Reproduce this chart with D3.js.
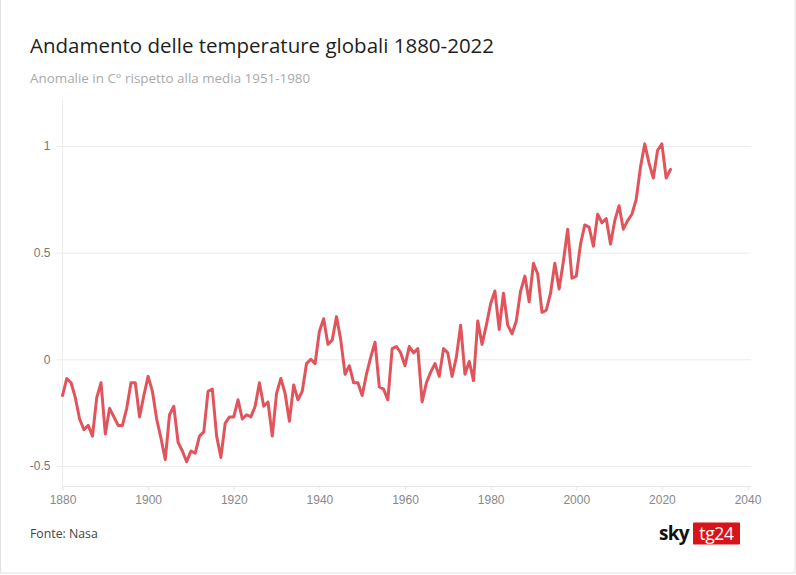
<!DOCTYPE html>
<html>
<head>
<meta charset="utf-8">
<script src="https://cdn.jsdelivr.net/npm/d3@7"></script>
<style>
  html, body { margin: 0; padding: 0; background: #fff; }
  svg { display: block; font-family: "Open Sans", "Noto Sans", sans-serif; }
</style>
</head>
<body>
<svg id="chart" width="796" height="575"></svg>
<script>
const years = d3.range(1880, 2023);
const anomalies = [
  -0.17,-0.09,-0.11,-0.18,-0.28,-0.33,-0.31,-0.36,-0.18,-0.11,
  -0.35,-0.23,-0.27,-0.31,-0.31,-0.23,-0.11,-0.11,-0.27,-0.17,
  -0.08,-0.15,-0.28,-0.37,-0.47,-0.26,-0.22,-0.39,-0.43,-0.48,
  -0.43,-0.44,-0.36,-0.34,-0.15,-0.14,-0.36,-0.46,-0.30,-0.27,
  -0.27,-0.19,-0.28,-0.26,-0.27,-0.22,-0.11,-0.22,-0.20,-0.36,
  -0.16,-0.09,-0.16,-0.29,-0.12,-0.19,-0.15,-0.02,0.00,-0.02,
  0.13,0.19,0.07,0.09,0.20,0.09,-0.07,-0.03,-0.11,-0.11,
  -0.17,-0.07,0.01,0.08,-0.13,-0.14,-0.19,0.05,0.06,0.03,
  -0.03,0.06,0.03,0.05,-0.20,-0.11,-0.06,-0.02,-0.08,0.05,
  0.03,-0.08,0.01,0.16,-0.07,-0.01,-0.10,0.18,0.07,0.16,
  0.26,0.32,0.14,0.31,0.16,0.12,0.18,0.32,0.39,0.27,
  0.45,0.40,0.22,0.23,0.31,0.45,0.33,0.46,0.61,0.38,
  0.39,0.54,0.63,0.62,0.53,0.68,0.64,0.66,0.54,0.65,
  0.72,0.61,0.65,0.68,0.75,0.90,1.01,0.92,0.85,0.98,
  1.01,0.85,0.89
];
const xTicks = [1880, 1900, 1920, 1940, 1960, 1980, 2000, 2020, 2040];
const yTicks = [-0.5, 0, 0.5, 1];
const yTickLabels = ["-0.5", "0", "0.5", "1"];

const title = "Andamento delle temperature globali 1880-2022";
const subtitle = "Anomalie in C° rispetto alla media 1951-1980";
const source = "Fonte: Nasa";

const data = years.map((y, i) => ({ year: y, value: anomalies[i] }));

const svg = d3.select("#chart");
const W = 796, H = 575;

// border
svg.append("rect").attr("x", 0.5).attr("y", -1).attr("width", W - 1.5).attr("height", H - 1)
  .attr("fill", "#fff").attr("stroke", "#e2e2e2");

const x = d3.scaleLinear().domain([1880, 2040]).range([62.5, 747.5]);
const y = d3.scaleLinear().domain([0, 1]).range([359.3, 146]);

const plotLeft = 62.5, plotRight = 751, plotTop = 100, plotBottom = 486.5;

// horizontal grid
const yAxis = d3.axisLeft(y).tickValues(yTicks)
  .tickFormat((d, i) => yTickLabels[i])
  .tickSize(-(plotRight - plotLeft)).tickPadding(12);
const gy = svg.append("g").attr("transform", `translate(${plotLeft},0)`).call(yAxis);
gy.select(".domain").remove();
gy.selectAll(".tick line").attr("stroke", "#ececec").attr("stroke-width", 1)
  .attr("x1", -6);
gy.selectAll(".tick text").attr("fill", "#777").attr("font-size", 12).attr("x", -12);

// vertical axis line
svg.append("line").attr("x1", plotLeft).attr("x2", plotLeft)
  .attr("y1", plotTop).attr("y2", plotBottom + 3)
  .attr("stroke", "#ececec").attr("stroke-width", 1);

// x axis
const xAxis = d3.axisBottom(x).tickValues(xTicks).tickFormat(d3.format("d"))
  .tickSize(4).tickPadding(5);
const gx = svg.append("g").attr("transform", `translate(0,${plotBottom})`).call(xAxis);
gx.select(".domain").attr("d", `M${plotLeft},0H${plotRight}`).attr("stroke", "#e6e6e6");
gx.selectAll(".tick line").attr("stroke", "#e6e6e6");
gx.selectAll(".tick text").attr("fill", "#888").attr("font-size", 12);

// line
const line = d3.line().x(d => x(d.year)).y(d => y(d.value)).curve(d3.curveLinear);
svg.append("path").datum(data).attr("d", line)
  .attr("fill", "none").attr("stroke", "#e2545c").attr("stroke-width", 3)
  .attr("stroke-linejoin", "round").attr("stroke-linecap", "round");

// titles
svg.append("text").attr("x", 30).attr("y", 53).text(title)
  .attr("font-size", 20.5).attr("fill", "#1e1e1e");
svg.append("text").attr("x", 30).attr("y", 83).text(subtitle)
  .attr("font-size", 13.4).attr("fill", "#aaa");
svg.append("text").attr("x", 30).attr("y", 538).text(source)
  .attr("font-size", 12.3).attr("fill", "#444");

// logo
const logo = svg.append("g").attr("transform", "translate(659,522)");
logo.append("text").attr("x", 0).attr("y", 18).text("sky")
  .attr("font-size", 19).attr("font-weight", 700).attr("fill", "#111")
  .attr("letter-spacing", -0.8);
logo.append("rect").attr("x", 34).attr("y", 0.5).attr("width", 47).attr("height", 22)
  .attr("fill", "#d7141a").attr("rx", 1);
logo.append("text").attr("x", 57.5).attr("y", 17.5).text("tg24")
  .attr("text-anchor", "middle").attr("font-size", 17.5).attr("fill", "#fff")
  .attr("letter-spacing", -0.3);
</script>
</body>
</html>
